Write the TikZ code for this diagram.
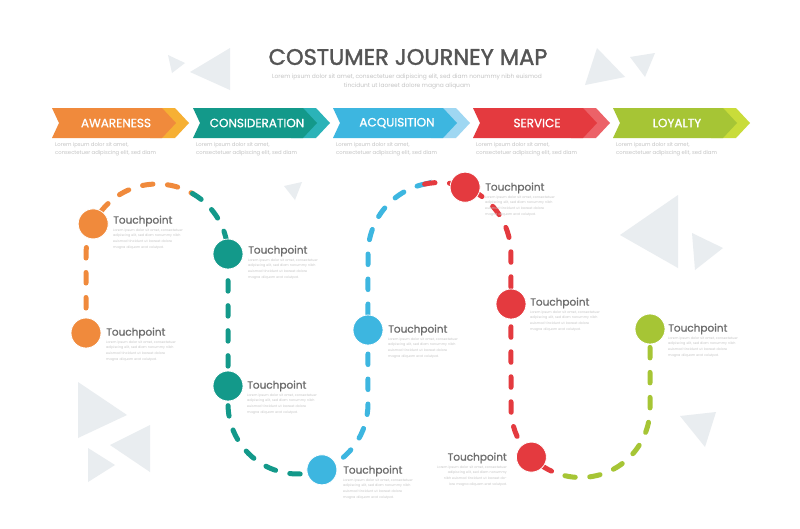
\documentclass[tikz,border=0pt]{standalone}
\usepackage{fontspec}
\setmainfont{Poppins}
\newfontfamily\medfont{Poppins}[FakeBold=1.6]
\newfontfamily\semifont{Poppins}[FakeBold=1.1]
\definecolor{corange}{HTML}{F08A3C}
\definecolor{corangeL}{HTML}{F6B034}
\definecolor{cteal}{HTML}{13998A}
\definecolor{ctealL}{HTML}{2BB3B8}
\definecolor{cblue}{HTML}{3DB6E0}
\definecolor{cblueL}{HTML}{9FD7F2}
\definecolor{cred}{HTML}{E43A3F}
\definecolor{credL}{HTML}{EC6268}
\definecolor{cgreen}{HTML}{A6C535}
\definecolor{cgreenL}{HTML}{C9DC3A}
\definecolor{bgtri}{HTML}{E9EDF0}
\definecolor{titlegray}{HTML}{555555}
\definecolor{labgray}{HTML}{6E6E6E}
\definecolor{loremgray}{HTML}{C4C4C4}
\tikzset{
  tri/.style={fill=bgtri, draw=none},
  tp/.style={circle, minimum size=30pt, inner sep=0pt, draw=white, line width=0.8pt},
  tplabel/.style={anchor=west, inner sep=0pt, text=labgray, font=\semifont\fontsize{10.5}{11}\selectfont},
  loremtp/.style={inner sep=0pt, text=loremgray, text width=72pt, font=\fontsize{3.3}{5.6}\selectfont},
  loremban/.style={inner sep=0pt, anchor=north west, text=loremgray, align=left, font=\fontsize{5.3}{8}\selectfont},
  bantext/.style={text=white, inner sep=0pt, font=\semifont\fontsize{12}{12}\selectfont},
  dashline/.style={line width=5pt, dash pattern=on 10.5pt off 14.5pt, line cap=round}
}
\newcommand{\banner}[5]{% start x, main colour, light colour, label, name
  \fill[#3] (#1+98,108) -- (#1+123,108) -- (#1+137,123) -- (#1+123,138) -- (#1+98,138) -- cycle;
  \fill[#2] (#1,108) -- (#1+110,108) -- (#1+124,123) -- (#1+110,138) -- (#1,138) -- (#1+7,123) -- cycle;
  \node[bantext] (#5) at (#1+64,123) {#4};
  \node[loremban] (#5d) at (#1+3,142) {Lorem ipsum dolor sit amet,\\consectetuer adipiscing elit, sed diam};
}
\newcommand{\loremtxt}{Lorem ipsum dolor sit amet, consectetuer adipiscing elit, sed diam nonummy nibh euismod tincidunt ut laoreet dolore magna aliquam erat volutpat.}
\begin{document}
\begin{tikzpicture}[x=1pt,y=-1pt]
\useasboundingbox (0,0) rectangle (800,528);
\fill[white] (0,0) rectangle (800,528);
% background triangles
\fill[tri] (168,55) -- (185,63) -- (172,73) -- cycle;
\fill[tri] (230,48) -- (230,90) -- (190,72) -- cycle;
\fill[tri] (597,48) -- (625,77) -- (585,85) -- cycle;
\fill[tri] (630,57) -- (655,53) -- (645,77) -- cycle;
\fill[tri] (678,195) -- (678,268) -- (620,235) -- cycle;
\fill[tri] (692,233) -- (723,248) -- (695,270) -- cycle;
\fill[tri] (78,382) -- (127,415) -- (78,438) -- cycle;
\fill[tri] (150,425) -- (150,472) -- (110,445) -- cycle;
\fill[tri] (88,448) -- (115,465) -- (88,482) -- cycle;
\fill[tri] (284,186) -- (302,182) -- (295,200) -- cycle;
\fill[tri] (680,416) -- (716,412) -- (705,447) -- cycle;
% title
\node[inner sep=0pt, text=titlegray, font=\medfont\fontsize{22.5}{22.5}\selectfont] (title) at (408,57) {COSTUMER JOURNEY MAP};
\node[inner sep=0pt, text=loremgray, align=center, font=\fontsize{5.9}{8.5}\selectfont] (subtitle) at (407,81.5)
  {Lorem ipsum dolor sit amet, consectetuer adipiscing elit, sed diam nonummy nibh euismod\\tincidunt ut laoreet dolore magna aliquam};
% banners
\banner{52}{corange}{corangeL}{AWARENESS}{b1}
\banner{193}{cteal}{ctealL}{CONSIDERATION}{b2}
\banner{333}{cblue}{cblueL}{ACQUISITION}{b3}
\banner{473}{cred}{credL}{SERVICE}{b4}
\banner{613}{cgreen}{cgreenL}{LOYALTY}{b5}
% path coordinates
\coordinate (c1) at (93.2,223.9);
\coordinate (c2) at (86,333);
\coordinate (c3) at (228,254);
\coordinate (c4) at (228,386);
\coordinate (c5) at (321.9,469.8);
\coordinate (c6) at (368,330);
\coordinate (c7) at (465.1,187.2);
\coordinate (c8) at (511,304);
\coordinate (c9) at (531.4,457.1);
\coordinate (c10) at (650,329);
\coordinate (ot) at (192.5,193.5);
\coordinate (br) at (424.6,184.1);
\coordinate (rg) at (564.9,475.7);
% dashed connectors
\draw[dashline, corange] (c2) -- (86,255) arc[start angle=180, end angle=300, radius=71] -- (ot);
\draw[dashline, cteal] (ot) arc[start angle=300, end angle=360, radius=71] -- (228,404) arc[start angle=180, end angle=70, radius=70] -- (c5);
\draw[dashline, cblue] (c5) arc[start angle=70, end angle=0, radius=70] -- (368,254) arc[start angle=180, end angle=258, radius=71.5] -- (br);
\draw[dashline, cred] (br) arc[start angle=258, end angle=360, radius=71.5] -- (511,408) arc[start angle=180, end angle=103, radius=69.5] -- (rg);
\draw[dashline, cgreen] (rg) arc[start angle=103, end angle=0, radius=69.5] -- (c10);
% touchpoint circles
\node[tp, fill=corange] (t1) at (c1) {};
\node[tp, fill=corange] (t2) at (c2) {};
\node[tp, fill=cteal] (t3) at (c3) {};
\node[tp, fill=cteal] (t4) at (c4) {};
\node[tp, fill=cblue] (t5) at (c5) {};
\node[tp, fill=cblue] (t6) at (c6) {};
\node[tp, fill=cred] (t7) at (c7) {};
\node[tp, fill=cred] (t8) at (c8) {};
\node[tp, fill=cred] (t9) at (c9) {};
\node[tp, fill=cgreen] (t10) at (c10) {};
% labels
\node[tplabel] (l1) at (113,221) {Touchpoint};
\node[tplabel] (l2) at (106,333) {Touchpoint};
\node[tplabel] (l3) at (248,251) {Touchpoint};
\node[tplabel] (l4) at (247,386) {Touchpoint};
\node[tplabel] (l5) at (343,471) {Touchpoint};
\node[tplabel] (l6) at (388,330) {Touchpoint};
\node[tplabel] (l7) at (485,188) {Touchpoint};
\node[tplabel] (l8) at (530,303) {Touchpoint};
\node[tplabel, anchor=east] (l9) at (507,458) {Touchpoint};
\node[tplabel] (l10) at (668,329) {Touchpoint};
\foreach \i in {1,...,8,10} {
  \node[loremtp, anchor=north west, yshift=-2pt] (d\i) at (l\i.south west) {\loremtxt};
}
\node[loremtp, anchor=north east, yshift=-2pt, align=right] (d9) at (l9.south east) {\loremtxt};
\end{tikzpicture}
\end{document}
